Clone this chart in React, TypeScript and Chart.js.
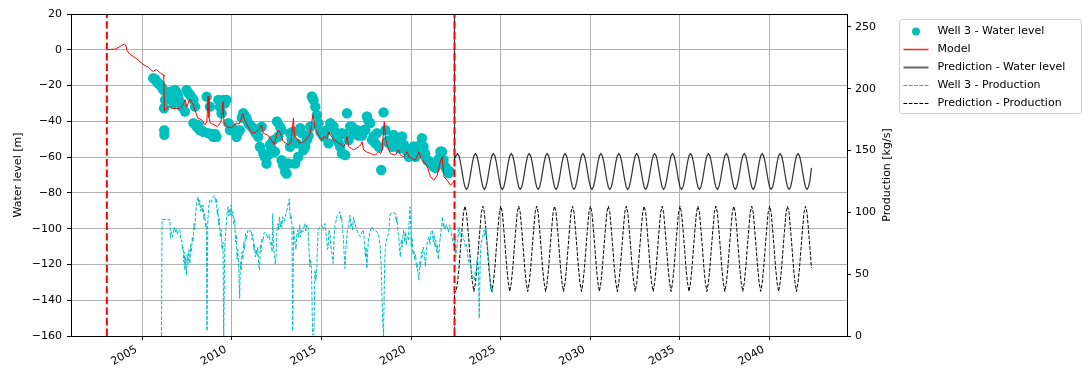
import React, { useEffect, useRef } from 'react';
import { Chart, registerables } from 'chart.js';

Chart.register(...registerables);

// ---------- axes ----------
const xRange = [2001.02, 2044.32];
const xTickYears = [2005, 2010, 2015, 2020, 2025, 2030, 2035, 2040];
const levelRange = [-160, 20];
const levelTicks = [-160, -140, -120, -100, -80, -60, -40, -20, 0, 20];
const productionRange = [0, 260.5];
const productionTicks = [0, 50, 100, 150, 200, 250];
const markerYears = [2003.02, 2022.42];

// ---------- Well 3 - Water level (observed, [year, m]) ----------
const wellLevelPoints = [
  [2005.61, -15.9], [2005.72, -16.5], [2005.8, -17.8], [2005.92, -19.0], [2005.99, -19.6],
  [2006.1, -21.0], [2006.17, -22.4], [2006.21, -32.7], [2006.22, -44.9], [2006.23, -47.5],
  [2006.27, -28.0], [2006.36, -24.3], [2006.45, -26.0], [2006.55, -23.4], [2006.65, -27.0],
  [2006.73, -30.0], [2006.82, -22.4], [2006.92, -24.0], [2007.0, -26.0], [2007.1, -29.0],
  [2007.2, -31.8], [2007.38, -34.6], [2007.47, -22.4], [2007.56, -24.0], [2007.66, -25.2],
  [2007.75, -26.5], [2007.85, -28.0], [2007.94, -31.8], [2007.85, -41.0], [2008.03, -43.0],
  [2008.12, -42.0], [2008.2, -44.9], [2008.3, -45.0], [2008.4, -45.8], [2008.59, -26.2],
  [2008.68, -46.7], [2008.77, -31.8], [2008.85, -47.0], [2008.96, -48.6], [2009.05, -47.0],
  [2009.14, -48.6], [2009.24, -28.0], [2009.33, -32.0], [2009.42, -35.5], [2009.52, -28.0],
  [2009.6, -30.0], [2009.7, -28.0], [2009.8, -41.0], [2009.89, -44.9], [2009.98, -44.0],
  [2010.07, -43.9], [2010.16, -46.0], [2010.26, -48.6], [2010.35, -46.0], [2010.44, -44.9],
  [2010.55, -38.0], [2010.63, -35.5], [2010.72, -37.0], [2010.82, -38.3], [2010.91, -41.0],
  [2011.0, -42.0], [2011.1, -43.0], [2011.19, -44.0], [2011.28, -45.8], [2011.37, -47.0],
  [2011.47, -48.6], [2011.56, -54.2], [2011.66, -43.0], [2011.75, -58.0], [2011.84, -60.0],
  [2011.93, -63.6], [2012.03, -58.9], [2012.12, -53.0], [2012.21, -55.1], [2012.3, -50.5],
  [2012.4, -57.0], [2012.51, -40.1], [2012.58, -48.6], [2012.69, -43.0], [2012.77, -44.9],
  [2012.77, -61.7], [2012.86, -64.5], [2012.97, -68.2], [2013.05, -69.2], [2013.14, -63.6],
  [2013.24, -54.2], [2013.25, -46.6], [2013.33, -50.0], [2013.42, -45.8], [2013.53, -63.6],
  [2013.61, -52.3], [2013.7, -59.8], [2013.81, -43.8], [2013.9, -46.7], [2013.99, -56.0],
  [2014.09, -54.2], [2014.18, -50.4], [2014.28, -48.0], [2014.37, -43.0], [2014.46, -26.1],
  [2014.5, -27.0], [2014.55, -28.0], [2014.65, -31.8], [2014.74, -36.4], [2014.83, -41.1],
  [2014.93, -45.8], [2015.02, -47.0], [2015.11, -48.5], [2015.2, -46.0], [2015.3, -44.8],
  [2015.39, -52.3], [2015.49, -41.0], [2015.58, -43.0], [2015.67, -42.9], [2015.76, -46.0],
  [2015.86, -49.4], [2015.95, -52.0], [2016.04, -54.2], [2016.14, -58.0], [2016.14, -46.6],
  [2016.23, -47.0], [2016.32, -58.8], [2016.42, -35.5], [2016.51, -50.5], [2016.6, -42.9],
  [2016.7, -43.0], [2016.79, -46.6], [2016.88, -47.0], [2016.98, -44.8], [2017.07, -48.0],
  [2017.16, -46.6], [2017.26, -48.0], [2017.35, -44.8], [2017.44, -45.0], [2017.53, -37.3],
  [2017.62, -40.0], [2017.72, -41.0], [2017.82, -50.5], [2017.9, -48.5], [2018.0, -52.3],
  [2018.09, -46.6], [2018.19, -54.2], [2018.33, -67.2], [2018.46, -35.0], [2018.56, -45.0],
  [2018.65, -51.3], [2018.74, -52.0], [2018.83, -50.4], [2018.94, -54.2], [2019.02, -47.6],
  [2019.12, -52.3], [2019.21, -53.0], [2019.31, -55.1], [2019.4, -52.0], [2019.49, -48.5],
  [2019.59, -53.0], [2019.68, -56.0], [2019.77, -56.0], [2019.87, -59.8], [2019.95, -58.8],
  [2020.06, -57.0], [2020.14, -54.0], [2020.24, -59.8], [2020.33, -58.0], [2020.43, -58.0],
  [2020.52, -53.0], [2020.6, -49.4], [2020.69, -54.0], [2020.78, -58.0], [2020.88, -61.6],
  [2020.97, -62.0], [2021.07, -63.4], [2021.16, -64.0], [2021.25, -65.3], [2021.35, -66.0],
  [2021.44, -63.4], [2021.54, -61.0], [2021.63, -56.9], [2021.72, -57.0], [2021.81, -61.6],
  [2021.9, -65.4], [2021.99, -67.1], [2022.09, -69.0], [2022.15, -68.0],
];

// ---------- Model ([year, m]) ----------
const modelPoints = [
  [2003.02, 0], [2003.5, 0.4], [2004.0, 3.2], [2004.08, 2.5], [2004.15, -0.5], [2004.3, -2.5],
  [2004.5, -3.8], [2004.75, -5.5], [2004.96, -7.5], [2005.15, -8.8], [2005.3, -9.5],
  [2005.43, -10.8], [2005.6, -12.1], [2005.8, -11.0], [2006.0, -13.0], [2006.17, -14.0],
  [2006.2, -15.0], [2006.23, -34.0], [2006.35, -32.7], [2006.5, -31.8], [2006.7, -33.0],
  [2006.9, -32.7], [2007.05, -33.0], [2007.2, -31.8], [2007.3, -30.0], [2007.4, -28.0],
  [2007.48, -32.0], [2007.55, -30.0], [2007.65, -27.5], [2007.74, -29.0], [2007.85, -31.0],
  [2007.93, -33.6], [2008.1, -38.3], [2008.3, -39.0], [2008.5, -42.0], [2008.6, -40.0],
  [2008.67, -26.0], [2008.72, -38.0], [2008.8, -41.0], [2009.0, -42.0], [2009.2, -43.0],
  [2009.4, -40.0], [2009.5, -29.0], [2009.56, -41.0], [2009.7, -43.0], [2009.9, -43.5],
  [2010.05, -43.0], [2010.24, -41.0], [2010.4, -41.5], [2010.5, -39.0], [2010.6, -35.5],
  [2010.7, -39.0], [2010.8, -41.0], [2011.0, -45.0], [2011.2, -46.7], [2011.35, -46.0],
  [2011.45, -45.0], [2011.55, -44.0], [2011.65, -42.0], [2011.75, -46.7], [2012.0, -47.7],
  [2012.2, -50.5], [2012.37, -53.0], [2012.5, -47.0], [2012.6, -45.0], [2012.7, -46.7],
  [2012.87, -51.4], [2013.0, -52.0], [2013.15, -53.3], [2013.3, -51.0], [2013.43, -38.3],
  [2013.5, -48.6], [2013.65, -50.0], [2013.8, -52.3], [2014.0, -51.4], [2014.15, -50.0],
  [2014.27, -48.6], [2014.37, -46.7], [2014.44, -42.0], [2014.51, -36.4], [2014.58, -40.0],
  [2014.65, -44.0], [2014.83, -47.7], [2015.02, -50.5], [2015.15, -48.5], [2015.3, -49.5],
  [2015.4, -46.0], [2015.49, -47.7], [2015.6, -49.0], [2015.67, -50.5], [2015.8, -51.0],
  [2015.95, -52.3], [2016.1, -53.0], [2016.23, -54.2], [2016.35, -52.0], [2016.42, -48.6],
  [2016.51, -54.2], [2016.65, -55.0], [2016.79, -56.0], [2016.95, -55.0], [2017.07, -54.2],
  [2017.2, -53.0], [2017.26, -51.4], [2017.35, -56.0], [2017.5, -57.0], [2017.72, -58.0],
  [2017.85, -58.5], [2018.0, -58.9], [2018.19, -57.0], [2018.3, -58.0], [2018.38, -56.0],
  [2018.45, -46.0], [2018.5, -40.2], [2018.56, -48.0], [2018.62, -52.3], [2018.84, -58.0],
  [2019.0, -58.5], [2019.12, -58.9], [2019.25, -57.0], [2019.31, -56.0], [2019.4, -58.9],
  [2019.59, -59.8], [2019.7, -58.0], [2019.78, -57.0], [2019.87, -59.8], [2020.06, -60.7],
  [2020.24, -61.7], [2020.35, -59.0], [2020.43, -57.0], [2020.56, -60.7], [2020.71, -62.6],
  [2020.9, -65.4], [2021.08, -71.0], [2021.27, -72.9], [2021.46, -70.0], [2021.6, -63.6],
  [2021.73, -59.8], [2021.83, -71.0], [2022.01, -72.9], [2022.2, -75.7], [2022.35, -74.0],
  [2022.42, -73.0],
];

// ---------- Well 3 - Production ([year, kg/s]) ----------
const wellProductionPoints = [
  [2006.07, 0], [2006.1, 94.3], [2006.54, 94.3], [2006.57, 79], [2006.62, 84], [2006.68, 80],
  [2006.72, 83], [2006.78, 88], [2006.84, 84], [2006.9, 87], [2006.96, 82], [2007.02, 86],
  [2007.1, 85.7], [2007.14, 78], [2007.2, 77.7], [2007.24, 70], [2007.28, 72.2], [2007.31, 60],
  [2007.34, 68], [2007.37, 53.3], [2007.41, 64], [2007.46, 49.2], [2007.5, 66], [2007.55, 58],
  [2007.6, 70], [2007.65, 58.6], [2007.7, 74], [2007.74, 68], [2007.79, 80.3], [2007.83, 76],
  [2007.88, 91], [2007.93, 86], [2007.98, 100], [2008.02, 104.6], [2008.06, 110], [2008.11, 112.6],
  [2008.16, 106], [2008.2, 110], [2008.25, 101], [2008.3, 106], [2008.35, 100], [2008.39, 105.9],
  [2008.44, 94], [2008.48, 99], [2008.53, 88], [2008.57, 91], [2008.61, 4], [2008.65, 91],
  [2008.7, 104], [2008.76, 110], [2008.85, 108], [2008.94, 112.6], [2009.04, 114], [2009.09, 108],
  [2009.13, 111.3], [2009.18, 98], [2009.22, 103], [2009.26, 90], [2009.3, 95], [2009.35, 80],
  [2009.4, 86], [2009.45, 70], [2009.5, 76], [2009.54, 0], [2009.6, 72], [2009.65, 84],
  [2009.72, 98], [2009.78, 104.6], [2009.83, 97], [2009.87, 102], [2009.92, 98], [2009.96, 106],
  [2010.01, 97], [2010.06, 100.6], [2010.1, 90], [2010.15, 95], [2010.2, 76], [2010.24, 82],
  [2010.29, 62], [2010.33, 70], [2010.38, 55], [2010.43, 30.4], [2010.47, 60], [2010.52, 53.3],
  [2010.56, 68], [2010.61, 62], [2010.66, 76], [2010.71, 70], [2010.76, 83], [2010.8, 78],
  [2010.89, 85.7], [2010.98, 84], [2011.07, 85.7], [2011.12, 78], [2011.17, 82], [2011.22, 70],
  [2011.26, 74], [2011.31, 64], [2011.35, 70], [2011.4, 65], [2011.44, 72], [2011.49, 58],
  [2011.54, 53.3], [2011.59, 74], [2011.63, 68], [2011.68, 79], [2011.72, 76], [2011.8, 84],
  [2011.91, 83], [2012.0, 79], [2012.09, 82], [2012.14, 74], [2012.19, 76], [2012.24, 68],
  [2012.28, 99], [2012.32, 70], [2012.37, 66.8], [2012.42, 58], [2012.46, 64], [2012.51, 84],
  [2012.56, 91], [2012.6, 86], [2012.65, 96.4], [2012.7, 88], [2012.74, 93], [2012.79, 88],
  [2012.83, 96.4], [2012.92, 93], [2013.02, 99], [2013.1, 104], [2013.2, 111], [2013.25, 95],
  [2013.3, 98], [2013.35, 90], [2013.39, 4], [2013.44, 88], [2013.48, 80], [2013.53, 76],
  [2013.57, 70], [2013.62, 82], [2013.67, 85.7], [2013.72, 80], [2013.78, 90], [2013.83, 80],
  [2013.88, 86], [2013.95, 84], [2014.06, 91], [2014.12, 85], [2014.19, 90], [2014.25, 88],
  [2014.3, 70], [2014.34, 56], [2014.39, 62], [2014.44, 53.3], [2014.5, 1], [2014.57, 1],
  [2014.63, 53.3], [2014.68, 45], [2014.72, 50.6], [2014.77, 70], [2014.81, 85.7], [2014.9, 88],
  [2015.0, 89.6], [2015.1, 86], [2015.19, 91], [2015.24, 84], [2015.28, 80.3], [2015.33, 70],
  [2015.37, 72.2], [2015.42, 86], [2015.47, 83], [2015.52, 72], [2015.56, 69.5], [2015.61, 62],
  [2015.65, 58.6], [2015.7, 80], [2015.75, 91], [2015.8, 92], [2015.84, 96.4], [2015.93, 98],
  [2016.03, 100.5], [2016.08, 94], [2016.12, 96.4], [2016.17, 86], [2016.22, 80.3], [2016.26, 66],
  [2016.31, 54.6], [2016.36, 70], [2016.4, 77.6], [2016.45, 86], [2016.5, 88.4], [2016.55, 94],
  [2016.59, 97.7], [2016.64, 88], [2016.69, 91], [2016.74, 85], [2016.78, 96.4], [2016.88, 90],
  [2016.97, 85.7], [2017.06, 82], [2017.15, 80.3], [2017.25, 84], [2017.34, 85.7], [2017.4, 74],
  [2017.45, 64], [2017.49, 72], [2017.53, 54.6], [2017.58, 70], [2017.62, 77.6], [2017.7, 84],
  [2017.81, 88.4], [2017.9, 86], [2018.0, 85.7], [2018.09, 84], [2018.18, 83], [2018.23, 76],
  [2018.28, 72.2], [2018.33, 55], [2018.37, 31.7], [2018.42, 10], [2018.46, 0], [2018.51, 50],
  [2018.56, 72.2], [2018.65, 80], [2018.75, 83], [2018.8, 95], [2018.84, 99], [2018.98, 100],
  [2019.12, 99], [2019.17, 92], [2019.21, 96.4], [2019.26, 84], [2019.31, 80.3], [2019.35, 70],
  [2019.4, 64], [2019.45, 78], [2019.5, 72], [2019.55, 82], [2019.59, 85.7], [2019.64, 76],
  [2019.69, 84], [2019.73, 74], [2019.78, 80.3], [2019.85, 78], [2019.9, 96], [2019.93, 104.6],
  [2019.97, 90], [2020.0, 72.2], [2020.05, 80], [2020.1, 66], [2020.15, 69.5], [2020.2, 62],
  [2020.25, 66], [2020.3, 55], [2020.34, 58.6], [2020.39, 50], [2020.43, 45.2], [2020.48, 60],
  [2020.52, 56], [2020.57, 68], [2020.62, 64], [2020.66, 72], [2020.71, 69.5], [2020.76, 62],
  [2020.8, 56], [2020.85, 70], [2020.9, 76], [2020.99, 80.3], [2021.05, 74], [2021.1, 84],
  [2021.18, 85.7], [2021.23, 76], [2021.28, 82], [2021.33, 72], [2021.37, 77.6], [2021.42, 68],
  [2021.47, 74], [2021.51, 62], [2021.55, 66.8], [2021.6, 76], [2021.65, 83], [2021.7, 90],
  [2021.74, 96.4], [2021.79, 88], [2021.83, 91], [2021.9, 86], [2021.96, 90], [2022.02, 88.4],
  [2022.08, 84], [2022.14, 90], [2022.21, 87], [2022.27, 80], [2022.34, 76], [2022.4, 72.2],
  [2022.44, 80], [2022.49, 64], [2022.53, 70], [2022.58, 75], [2022.63, 84], [2022.68, 88.4],
  [2022.72, 82], [2022.77, 80.3], [2022.82, 86], [2022.87, 83], [2022.92, 78], [2022.96, 77.6],
  [2023.03, 72], [2023.09, 74], [2023.15, 66.8], [2023.2, 60], [2023.26, 62], [2023.33, 56],
  [2023.4, 50], [2023.46, 48], [2023.52, 45.2], [2023.57, 52], [2023.62, 50.6], [2023.66, 60],
  [2023.7, 64], [2023.75, 56], [2023.8, 14.3], [2023.85, 60], [2023.89, 72.2], [2023.95, 78],
  [2024.02, 82], [2024.08, 85.7], [2024.12, 80], [2024.17, 88.4], [2024.22, 78], [2024.27, 72.2],
  [2024.31, 64], [2024.35, 58.6], [2024.4, 46], [2024.44, 37], [2024.49, 40], [2024.54, 34.3],
];

// ---------- Predictions (monthly from predictionStartYear) ----------
const predictionStartYear = 2022.42;
const predictionLevelInitial = 30;
const predictionLevels = [
  -61, -59.3, -58, -59.3, -63, -68, -73, -76.7, -78, -76.7, -73, -68,
  -63, -59.3, -58, -59.3, -63, -68, -73, -76.7, -78, -76.7, -73, -68,
  -63, -59.3, -58, -59.3, -63, -68, -73, -76.7, -78, -76.7, -73, -68,
  -63, -59.3, -58, -59.3, -63, -68, -73, -76.7, -78, -76.7, -73, -68,
  -63, -59.3, -58, -59.3, -63, -68, -73, -76.7, -78, -76.7, -73, -68,
  -63, -59.3, -58, -59.3, -63, -68, -73, -76.7, -78, -76.7, -73, -68,
  -63, -59.3, -58, -59.3, -63, -68, -73, -76.7, -78, -76.7, -73, -68,
  -63, -59.3, -58, -59.3, -63, -68, -73, -76.7, -78, -76.7, -73, -68,
  -63, -59.3, -58, -59.3, -63, -68, -73, -76.7, -78, -76.7, -73, -68,
  -63, -59.3, -58, -59.3, -63, -68, -73, -76.7, -78, -76.7, -73, -68,
  -63, -59.3, -58, -59.3, -63, -68, -73, -76.7, -78, -76.7, -73, -68,
  -63, -59.3, -58, -59.3, -63, -68, -73, -76.7, -78, -76.7, -73, -68,
  -63, -59.3, -58, -59.3, -63, -68, -73, -76.7, -78, -76.7, -73, -68,
  -63, -59.3, -58, -59.3, -63, -68, -73, -76.7, -78, -76.7, -73, -68,
  -63, -59.3, -58, -59.3, -63, -68, -73, -76.7, -78, -76.7, -73, -68,
  -63, -59.3, -58, -59.3, -63, -68, -73, -76.7, -78, -76.7, -73, -68,
  -63, -59.3, -58, -59.3, -63, -68, -73, -76.7, -78, -76.7, -73, -68,
  -63, -59.3, -58, -59.3, -63, -68, -73, -76.7, -78, -76.7, -73, -68,
  -63, -59.3, -58, -59.3, -63, -68, -73, -76.7, -78, -76.7, -73, -68,
  -63, -59.3, -58, -59.3, -63, -68, -73, -76.7, -78, -76.7, -73, -66,
];
const predictionProductionInitial = 0;
const predictionProduction = [
  36, 36, 43, 55, 71, 86, 100, 105, 100, 86, 71, 55,
  43, 36, 43, 55, 71, 86, 100, 105, 100, 86, 71, 55,
  43, 36, 43, 55, 71, 86, 100, 105, 100, 86, 71, 55,
  43, 36, 43, 55, 71, 86, 100, 105, 100, 86, 71, 55,
  43, 36, 43, 55, 71, 86, 100, 105, 100, 86, 71, 55,
  43, 36, 43, 55, 71, 86, 100, 105, 100, 86, 71, 55,
  43, 36, 43, 55, 71, 86, 100, 105, 100, 86, 71, 55,
  43, 36, 43, 55, 71, 86, 100, 105, 100, 86, 71, 55,
  43, 36, 43, 55, 71, 86, 100, 105, 100, 86, 71, 55,
  43, 36, 43, 55, 71, 86, 100, 105, 100, 86, 71, 55,
  43, 36, 43, 55, 71, 86, 100, 105, 100, 86, 71, 55,
  43, 36, 43, 55, 71, 86, 100, 105, 100, 86, 71, 55,
  43, 36, 43, 55, 71, 86, 100, 105, 100, 86, 71, 55,
  43, 36, 43, 55, 71, 86, 100, 105, 100, 86, 71, 55,
  43, 36, 43, 55, 71, 86, 100, 105, 100, 86, 71, 55,
  43, 36, 43, 55, 71, 86, 100, 105, 100, 86, 71, 55,
  43, 36, 43, 55, 71, 86, 100, 105, 100, 86, 71, 55,
  43, 36, 43, 55, 71, 86, 100, 105, 100, 86, 71, 55,
  43, 36, 43, 55, 71, 86, 100, 105, 100, 86, 71, 55,
  43, 36, 43, 55, 71, 86, 100, 105, 100, 86, 71, 55,
];

const seriesLabels = [
  'Well 3 - Water level',
  'Model',
  'Prediction - Water level',
  'Well 3 - Production',
  'Prediction - Production',
];
const axisTitles = ['Water level [m]', 'Production [kg/s]'];

const CYAN = '#00bfbf';
const RED = '#ff0000';
const FONT = 'DejaVu Sans';
const DASH = [3.7, 1.6];

const toXY = (pts: number[][]) => pts.map(([x, y]) => ({ x, y }));
const monthly = (start: number, initial: number, values: number[]) => [
  { x: start, y: initial },
  ...values.map((y, i) => ({ x: start + i / 12, y })),
];
const minus = (v: number) => (v < 0 ? '\u2212' + Math.abs(v) : String(v));

const decorPlugin = {
  id: 'decor',
  afterDatasetsDraw(chart: any) {
    const { ctx, chartArea: a } = chart;
    ctx.save();
    ctx.strokeStyle = '#000';
    ctx.lineWidth = 1;
    const l = Math.floor(a.left) + 0.5;
    const t = Math.floor(a.top) + 0.5;
    const r = Math.floor(a.right) + 0.5;
    const b = Math.floor(a.bottom) + 0.5;
    ctx.strokeRect(l, t, r - l, b - t);
    ctx.restore();
  },
  afterDraw(chart: any) {
    const { ctx, chartArea: a } = chart;
    ctx.save();
    ctx.fillStyle = '#000';
    ctx.font = `11px "${FONT}"`;
    ctx.textAlign = 'center';
    ctx.textBaseline = 'middle';
    const cy = (a.top + a.bottom) / 2;
    ctx.save();
    ctx.translate(18, cy);
    ctx.rotate(-Math.PI / 2);
    ctx.fillText(axisTitles[0], 0, 0);
    ctx.restore();
    ctx.save();
    ctx.translate(a.right + 40, cy);
    ctx.rotate(-Math.PI / 2);
    ctx.fillText(axisTitles[1], 0, 0);
    ctx.restore();

    // legend
    const bx = a.right + 52.5;
    const by = a.top + 5.5;
    const bw = 182;
    const bh = 94;
    ctx.beginPath();
    (ctx as any).roundRect(bx, by, bw, bh, 3);
    ctx.fillStyle = 'rgba(255,255,255,0.8)';
    ctx.fill();
    ctx.strokeStyle = '#cccccc';
    ctx.lineWidth = 1;
    ctx.stroke();

    const handles = [
      { kind: 'dot', color: CYAN, width: 0, dash: [] as number[] },
      { kind: 'line', color: '#ff2020', width: 1.5, dash: [] as number[] },
      { kind: 'line', color: '#666666', width: 2, dash: [] as number[] },
      { kind: 'line', color: CYAN, width: 1.2, dash: DASH },
      { kind: 'line', color: '#000000', width: 1.2, dash: DASH },
    ];
    const hx0 = bx + 4;
    const hx1 = bx + 29;
    const tx = bx + 38;
    ctx.textAlign = 'left';
    handles.forEach((h, i) => {
      const y = by + 12 + i * 18;
      if (h.kind === 'dot') {
        ctx.beginPath();
        ctx.arc((hx0 + hx1) / 2, y, 4, 0, Math.PI * 2);
        ctx.fillStyle = h.color;
        ctx.fill();
      } else {
        ctx.beginPath();
        ctx.setLineDash(h.dash);
        ctx.strokeStyle = h.color;
        ctx.lineWidth = h.width;
        ctx.moveTo(hx0, y);
        ctx.lineTo(hx1, y);
        ctx.stroke();
        ctx.setLineDash([]);
      }
      ctx.fillStyle = '#000';
      ctx.fillText(seriesLabels[i], tx, y);
    });
    ctx.restore();
  },
};

export default function App() {
  const ref = useRef<HTMLCanvasElement | null>(null);

  useEffect(() => {
    if (!ref.current) return;
    Chart.defaults.font.family = FONT;
    Chart.defaults.font.size = 11;
    Chart.defaults.color = '#000';

    const vlines = markerYears.map((yr) => ({
      type: 'line' as const,
      label: 'marker',
      data: [
        { x: yr, y: levelRange[0] },
        { x: yr, y: levelRange[1] },
      ],
      yAxisID: 'y',
      borderColor: RED,
      borderWidth: 2,
      borderDash: [7.4, 3.2],
      pointRadius: 0,
      tension: 0,
    }));

    // Chart.js paints dataset index 0 last (on top)
    const chart = new Chart(ref.current, {
      type: 'line',
      data: {
        datasets: [
          ...vlines,
          {
            type: 'line',
            label: seriesLabels[1],
            data: toXY(modelPoints),
            yAxisID: 'y',
            borderColor: RED,
            borderWidth: 1,
            pointRadius: 0,
            tension: 0,
          },
          {
            type: 'line',
            label: seriesLabels[3],
            data: toXY(wellProductionPoints),
            yAxisID: 'y1',
            borderColor: CYAN,
            borderWidth: 1,
            borderDash: DASH,
            pointRadius: 0,
            tension: 0,
          },
          {
            type: 'line',
            label: seriesLabels[4],
            data: monthly(predictionStartYear, predictionProductionInitial, predictionProduction),
            yAxisID: 'y1',
            borderColor: '#000',
            borderWidth: 1,
            borderDash: DASH,
            pointRadius: 0,
            tension: 0,
          },
          {
            type: 'line',
            label: seriesLabels[2],
            data: monthly(predictionStartYear, predictionLevelInitial, predictionLevels),
            yAxisID: 'y',
            borderColor: 'rgba(0,0,0,0.8)',
            borderWidth: 1.2,
            pointRadius: 0,
            tension: 0,
          },
          {
            type: 'scatter',
            label: seriesLabels[0],
            data: toXY(wellLevelPoints),
            yAxisID: 'y',
            backgroundColor: CYAN,
            borderWidth: 0,
            pointRadius: 5.2,
            showLine: false,
          },
        ] as any,
      },
      options: {
        animation: false,
        responsive: false,
        events: [],
        layout: { padding: { top: 14, left: 0, right: 155, bottom: 0 } },
        plugins: {
          legend: { display: false },
          tooltip: { enabled: false },
        },
        scales: {
          x: {
            type: 'linear',
            min: xRange[0],
            max: xRange[1],
            afterBuildTicks: (s: any) => {
              s.ticks = xTickYears.map((value) => ({ value }));
            },
            afterFit: (s: any) => {
              s.height = 37;
              s.paddingLeft = 0;
              s.paddingRight = 0;
            },
            ticks: {
              autoSkip: false,
              minRotation: 30,
              maxRotation: 30,
              padding: 3,
              labelOffset: -6,
              color: '#000',
              font: { family: FONT, size: 11 },
              callback: (v: any) => String(v),
            },
            grid: { color: '#b0b0b0', lineWidth: 1, tickLength: 4, tickColor: '#000' },
            border: { display: false },
          },
          y: {
            type: 'linear',
            position: 'left',
            min: levelRange[0],
            max: levelRange[1],
            afterBuildTicks: (s: any) => {
              s.ticks = levelTicks.map((value) => ({ value }));
            },
            afterFit: (s: any) => {
              s.width = 71;
              s.paddingTop = 0;
              s.paddingBottom = 0;
            },
            ticks: {
              padding: 5,
              color: '#000',
              font: { family: FONT, size: 11 },
              callback: (v: any) => minus(Number(v)),
            },
            grid: { color: '#b0b0b0', lineWidth: 1, tickLength: 4, tickColor: '#000' },
            border: { display: false },
          },
          y1: {
            type: 'linear',
            position: 'right',
            min: productionRange[0],
            max: productionRange[1],
            afterBuildTicks: (s: any) => {
              s.ticks = productionTicks.map((value) => ({ value }));
            },
            afterFit: (s: any) => {
              s.width = 80;
              s.paddingTop = 0;
              s.paddingBottom = 0;
            },
            ticks: {
              padding: 4,
              color: '#000',
              font: { family: FONT, size: 11 },
              callback: (v: any) => String(v),
            },
            grid: { drawOnChartArea: false, tickLength: 4, tickColor: '#000', color: '#000' },
            border: { display: false },
          },
        },
      } as any,
      plugins: [decorPlugin],
    });

    return () => chart.destroy();
  }, []);

  return (
    <div style={{ position: 'absolute', left: 0, top: 0, width: 1082, height: 373, background: '#fff' }}>
      <canvas ref={ref} width={1082} height={373} style={{ display: 'block' }} />
    </div>
  );
}
